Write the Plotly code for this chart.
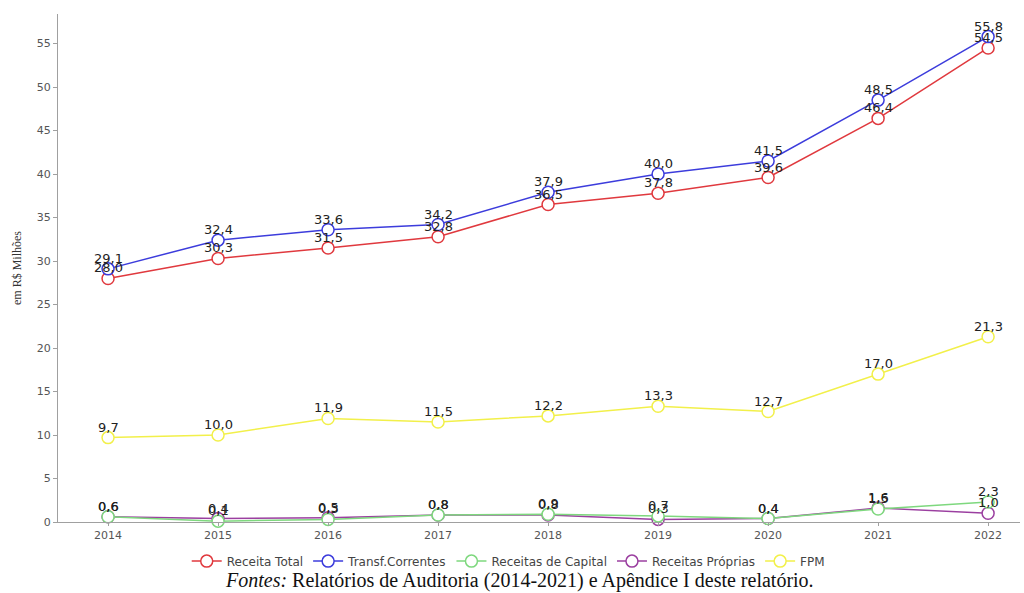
import plotly.graph_objects as go

anos = ["2014", "2015", "2016", "2017", "2018", "2019", "2020", "2021", "2022"]
receita_total = [28.0, 30.3, 31.5, 32.8, 36.5, 37.8, 39.6, 46.4, 54.5]
transf_correntes = [29.1, 32.4, 33.6, 34.2, 37.9, 40.0, 41.5, 48.5, 55.8]
receitas_capital = [0.6, 0.1, 0.3, 0.8, 0.9, 0.7, 0.4, 1.5, 2.3]
receitas_proprias = [0.6, 0.4, 0.5, 0.8, 0.8, 0.3, 0.4, 1.6, 1.0]
fpm = [9.7, 10.0, 11.9, 11.5, 12.2, 13.3, 12.7, 17.0, 21.3]

x_pos = list(range(len(anos)))


def rotulo(v):
    return f"{v:.1f}".replace(".", ",")


series = [
    ("Receita Total", receita_total, "#e0393e", 1),
    ("Transf.Correntes", transf_correntes, "#3c3cdc", 2),
    ("Receitas Próprias", receitas_proprias, "#9b3fa0", 4),
    ("Receitas de Capital", receitas_capital, "#7ed87e", 3),
    ("FPM", fpm, "#f2f04a", 5),
]

fig = go.Figure()
annotations = []
for nome, valores, cor, rank in series:
    fig.add_trace(go.Scatter(
        x=x_pos, y=valores, name=nome, mode="lines+markers",
        line=dict(color=cor, width=1.5),
        marker=dict(symbol="circle", size=12, color="white",
                    line=dict(color=cor, width=1.5)),
        legendrank=rank, cliponaxis=False,
    ))
    # value labels sitting just above each marker
    for xi, v in zip(x_pos, valores):
        annotations.append(dict(
            x=xi, y=v, xref="x", yref="y", text=rotulo(v), showarrow=False,
            xanchor="center", yanchor="bottom", yshift=2, borderpad=0,
            font=dict(family="DejaVu Sans", size=13, color="#222222"),
        ))

annotations.append(dict(
    text="<i>Fontes:</i> Relatórios de Auditoria (2014-2021) e Apêndice I deste relatório.",
    xref="paper", yref="paper", x=0.48, y=-0.115, xanchor="center", yanchor="middle",
    showarrow=False, font=dict(family="Liberation Serif", size=20, color="#111111"),
))

fig.update_layout(
    width=1024, height=593,
    margin=dict(l=58, r=4, t=14, b=71),
    paper_bgcolor="white", plot_bgcolor="white",
    showlegend=True,
    legend=dict(orientation="h", x=0.468, xanchor="center", y=-0.077,
                yanchor="middle", font=dict(family="DejaVu Sans", size=12, color="#444444"),
                itemwidth=30, tracegroupgap=0),
    xaxis=dict(
        range=[-0.455, 8.29], tickvals=x_pos, ticktext=anos,
        showgrid=False, zeroline=False, showline=True, linecolor="#a0a0a0",
        ticks="outside", ticklen=3, tickcolor="#a0a0a0",
        tickfont=dict(family="DejaVu Sans", size=11, color="#555555"),
    ),
    yaxis=dict(
        range=[0, 58.4], tickvals=list(range(0, 56, 5)),
        showgrid=False, zeroline=False, showline=True, linecolor="#a0a0a0",
        ticks="outside", ticklen=4, tickcolor="#a0a0a0",
        tickfont=dict(family="DejaVu Sans", size=11, color="#555555"),
        title=dict(text="em R$ Milhões", standoff=12,
                   font=dict(family="Liberation Serif", size=12, color="#333333")),
    ),
    annotations=annotations,
)

fig.write_html("out.html")
